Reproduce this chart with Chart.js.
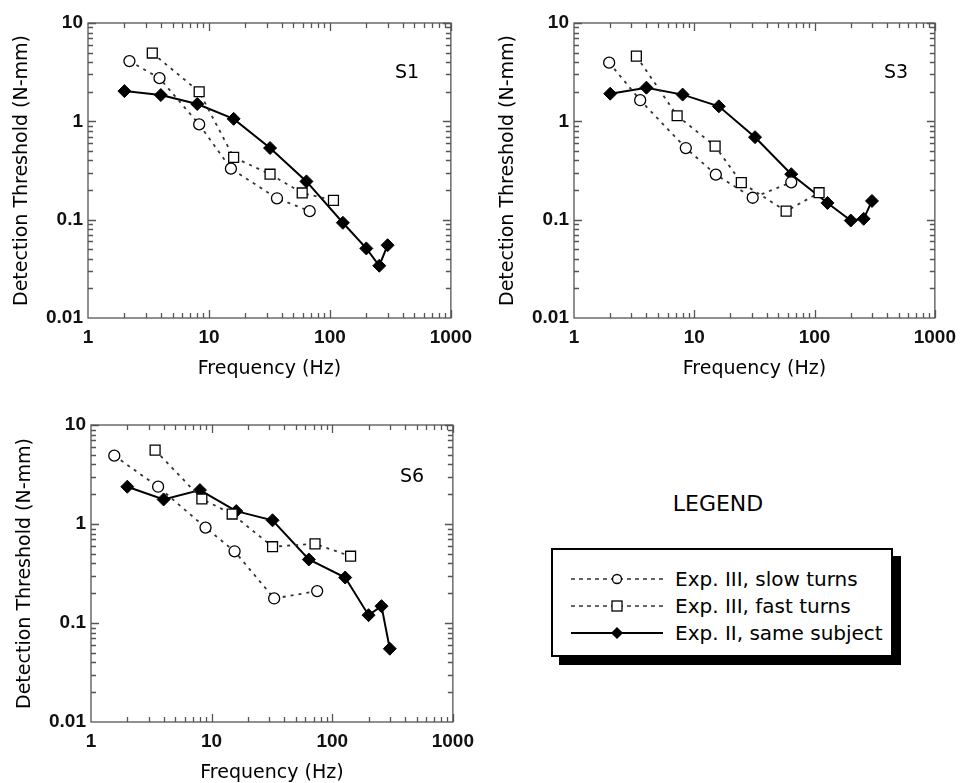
<!DOCTYPE html>
<html>
<head>
<meta charset="utf-8">
<script src="https://cdn.jsdelivr.net/npm/chart.js@4.4.1/dist/chart.umd.min.js"></script>
<style>
  body { margin: 0; width: 964px; height: 783px; overflow: hidden; position: relative; background: #fff;
         font-family: "DejaVu Sans", Verdana, sans-serif; color: #000; }
  canvas { position: absolute; }
  .tag { position: absolute; font-size: 19px; transform: translate(-50%, -50%); }
  #legend-title { position: absolute; left: 718px; top: 503px; font-size: 22px; transform: translate(-50%, -50%); }
  #legend { position: absolute; left: 551px; top: 548px; width: 338px; height: 105px; border: 2px solid #000;
            box-shadow: 8px 8px 0 #000; background: #fff; }
  .row { position: absolute; left: 18px; height: 26px; display: flex; align-items: center; font-size: 20px; }
  .row svg { margin-right: 12px; }
</style>
</head>
<body>
<canvas id="c1" width="480" height="390" style="left:0;top:0"></canvas>
<canvas id="c2" width="478" height="390" style="left:486px;top:0"></canvas>
<canvas id="c3" width="479" height="392" style="left:3px;top:402px"></canvas>
<div class="tag" style="left:407px;top:71px">S1</div>
<div class="tag" style="left:896px;top:71px">S3</div>
<div class="tag" style="left:412px;top:475px">S6</div>

<div id="legend-title">LEGEND</div>
<div id="legend">
  <div class="row" style="top:16px">
    <svg width="92" height="14"><line x1="0" y1="7" x2="92" y2="7" stroke="#333" stroke-width="1.5" stroke-dasharray="4,4"/><circle cx="46" cy="7" r="4.5" fill="#fff" stroke="#000" stroke-width="1.3"/></svg>
    <span>Exp. III, slow turns</span>
  </div>
  <div class="row" style="top:43px">
    <svg width="92" height="14"><line x1="0" y1="7" x2="92" y2="7" stroke="#333" stroke-width="1.5" stroke-dasharray="4,4"/><rect x="41" y="2" width="10" height="10" fill="#fff" stroke="#000" stroke-width="1.3"/></svg>
    <span>Exp. III, fast turns</span>
  </div>
  <div class="row" style="top:70px">
    <svg width="92" height="14"><line x1="0" y1="7" x2="92" y2="7" stroke="#000" stroke-width="2"/><polygon points="46,1 52,7 46,13 40,7" fill="#000"/></svg>
    <span>Exp. II, same subject</span>
  </div>
</div>

<script>
// axis ticks
const xTickValues = [1, 10, 100, 1000];
const xTickLabels = ['1', '10', '100', '1000'];
const yTickValues = [0.01, 0.1, 1, 10];
const yTickLabels = ['0.01', '0.1', '1', '10'];

// Exp. II frequencies shared by all subjects
const expIIFreq = [2, 4, 8, 16, 32, 64, 128, 200, 256, 300];

// S1
const s1SlowFreq = [2.2, 3.9, 8.3, 15.2, 36.5, 68];
const s1SlowThr  = [4.1, 2.75, 0.93, 0.33, 0.165, 0.122];
const s1FastFreq = [3.4, 8.3, 16, 32, 59, 107];
const s1FastThr  = [4.95, 2.0, 0.43, 0.29, 0.187, 0.157];
const s1ExpIIThr = [2.03, 1.85, 1.5, 1.06, 0.535, 0.245, 0.093, 0.051, 0.034, 0.055];

// S3
const s3SlowFreq = [1.96, 3.55, 8.5, 15.1, 30.6, 64];
const s3SlowThr  = [3.95, 1.64, 0.535, 0.287, 0.167, 0.24];
const s3FastFreq = [3.3, 7.2, 14.9, 24.6, 58, 109];
const s3FastThr  = [4.6, 1.14, 0.56, 0.238, 0.122, 0.188];
const s3ExpIIThr = [1.91, 2.2, 1.87, 1.42, 0.69, 0.29, 0.148, 0.098, 0.102, 0.155];

// S6
const s6SlowFreq = [1.56, 3.6, 8.9, 15.5, 33, 75];
const s6SlowThr  = [4.9, 2.38, 0.92, 0.53, 0.177, 0.21];
const s6FastFreq = [3.4, 8.3, 14.8, 32, 72, 142];
const s6FastThr  = [5.58, 1.79, 1.26, 0.59, 0.63, 0.473];
const s6ExpIIThr = [2.38, 1.77, 2.2, 1.35, 1.09, 0.438, 0.288, 0.12, 0.148, 0.055];

const pts = (xs, ys) => xs.map((x, i) => ({ x: x, y: ys[i] }));
const FONT = '"DejaVu Sans", Verdana, sans-serif';
const TICK_FONT = { family: '"Liberation Sans", Arial, sans-serif', size: 19, weight: 'bold' };

// box frame with inward ticks on all four sides
const frameTicks = {
  id: 'frameTicks',
  beforeDatasetsDraw(chart) {
    const { ctx, chartArea: a, scales: { x, y } } = chart;
    ctx.save();
    ctx.strokeStyle = '#555';
    ctx.lineWidth = 1.3;
    ctx.strokeRect(a.left, a.top, a.right - a.left, a.bottom - a.top);
    ctx.beginPath();
    for (let d = 1; d < 1000; d *= 10) {
      for (let m = 2; m <= 10; m++) {
        const px = Math.round(x.getPixelForValue(d * m)) + 0.5;
        const len = m === 10 ? 8 : 5;
        ctx.moveTo(px, a.top); ctx.lineTo(px, a.top + len);
        ctx.moveTo(px, a.bottom); ctx.lineTo(px, a.bottom - len);
      }
    }
    for (let d = 0.01; d < 5; d *= 10) {
      for (let m = 2; m <= 10; m++) {
        const py = Math.round(y.getPixelForValue(d * m)) + 0.5;
        const len = m === 10 ? 8 : 5;
        ctx.moveTo(a.left, py); ctx.lineTo(a.left + len, py);
        ctx.moveTo(a.right, py); ctx.lineTo(a.right - len, py);
      }
    }
    ctx.stroke();
    ctx.restore();
  }
};

function makeChart(id, rightPad, slow, fast, exp2) {
  new Chart(document.getElementById(id), {
    type: 'line',
    data: {
      datasets: [
        { data: slow, borderColor: '#333', borderWidth: 1.8, borderDash: [3, 5],
          pointStyle: 'circle', pointRadius: 5.5, pointBackgroundColor: '#fff',
          pointBorderColor: '#000', pointBorderWidth: 1.3 },
        { data: fast, borderColor: '#333', borderWidth: 1.8, borderDash: [3, 5],
          pointStyle: 'rect', pointRadius: 7, pointBackgroundColor: '#fff',
          pointBorderColor: '#000', pointBorderWidth: 1.3 },
        { data: exp2, borderColor: '#000', borderWidth: 2,
          pointStyle: 'rectRot', pointRadius: 6.5, pointBackgroundColor: '#000',
          pointBorderColor: '#000', pointBorderWidth: 1 }
      ]
    },
    options: {
      responsive: false,
      animation: false,
      layout: { padding: { top: 23, right: rightPad, left: 0, bottom: 0 } },
      plugins: { legend: { display: false }, tooltip: { enabled: false } },
      scales: {
        x: {
          type: 'logarithmic', min: 1, max: 1000,
          afterBuildTicks: s => { s.ticks = xTickValues.map(v => ({ value: v })); },
          afterFit: s => { s.height = 72; },
          ticks: { callback: (v, i) => xTickLabels[i], font: TICK_FONT,
                   color: '#111', padding: 8, maxRotation: 0, autoSkip: false },
          grid: { display: false, drawTicks: false },
          border: { display: false },
          title: { display: true, text: 'Frequency (Hz)', color: '#000',
                   font: { family: FONT, size: 19 }, padding: { top: 0, bottom: 10 } }
        },
        y: {
          type: 'logarithmic', min: 0.01, max: 10,
          afterBuildTicks: s => { s.ticks = yTickValues.map(v => ({ value: v })); },
          afterFit: s => { s.width = 88; },
          ticks: { callback: (v, i) => yTickLabels[i], font: TICK_FONT,
                   color: '#111', padding: 5, autoSkip: false },
          grid: { display: false, drawTicks: false },
          border: { display: false },
          title: { display: true, text: 'Detection Threshold (N-mm)', color: '#000',
                   font: { family: FONT, size: 19 }, padding: { top: 11, bottom: 0 } }
        }
      }
    },
    plugins: [frameTicks]
  });
}

makeChart('c1', 25, pts(s1SlowFreq, s1SlowThr), pts(s1FastFreq, s1FastThr), pts(expIIFreq, s1ExpIIThr));
makeChart('c2', 22, pts(s3SlowFreq, s3SlowThr), pts(s3FastFreq, s3FastThr), pts(expIIFreq, s3ExpIIThr));
makeChart('c3', 25, pts(s6SlowFreq, s6SlowThr), pts(s6FastFreq, s6FastThr), pts(expIIFreq, s6ExpIIThr));
</script>
</body>
</html>
